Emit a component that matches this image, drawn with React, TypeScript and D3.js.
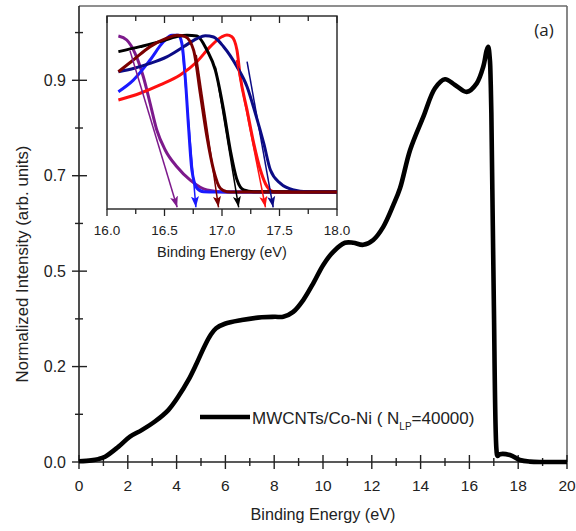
import React from "react";
import * as d3 from "d3";

// ---------- main spectrum ----------
const mainEnergy = [0, 0.5, 0.79, 1.07, 1.61, 2.09, 2.57, 3.11, 3.66, 4.07, 4.48, 4.82, 5.16, 5.4, 5.62, 5.98, 6.67, 7.49, 8.03, 8.37, 8.78, 9.19, 9.6, 10.01, 10.42, 10.9, 11.24, 11.65, 12.06, 12.47, 12.88, 13.16, 13.57, 14.11, 14.59, 15.0, 15.41, 15.89, 16.3, 16.57, 16.71, 16.77, 16.84, 16.87, 16.9, 17.0, 17.11, 17.15, 17.25, 17.66, 18.07, 18.48, 19.0, 20.0];
const mainIntensity = [0.002, 0.004, 0.007, 0.013, 0.037, 0.062, 0.078, 0.099, 0.127, 0.16, 0.2, 0.241, 0.285, 0.311, 0.327, 0.338, 0.347, 0.354, 0.355, 0.355, 0.367, 0.396, 0.437, 0.482, 0.514, 0.536, 0.536, 0.531, 0.543, 0.575, 0.628, 0.67, 0.763, 0.844, 0.914, 0.936, 0.922, 0.905, 0.926, 0.967, 1.007, 1.015, 0.983, 0.934, 0.853, 0.396, 0.029, 0.015, 0.019, 0.017, 0.005, 0.001, 0.0, 0.0];

const xMajorTicks = [0, 2, 4, 6, 8, 10, 12, 14, 16, 18, 20];
const xMinorTicks = [1, 3, 5, 7, 9, 11, 13, 15, 17, 19];
const yMajorTicks = [0, 7 / 30, 14 / 30, 21 / 30, 28 / 30];
const yTickLabels = ["0.0", "0.2", "0.5", "0.7", "0.9"];
const yMinorTicks = [3.5 / 30, 10.5 / 30, 17.5 / 30, 24.5 / 30, 31.5 / 30];

// ---------- inset ----------
const insetMajorTicks = [16.0, 16.5, 17.0, 17.5, 18.0];
const insetTickLabels = ["16.0", "16.5", "17.0", "17.5", "18.0"];
const insetMinorTicks = [16.25, 16.75, 17.25, 17.75];

const purpleE = [16.099, 16.172, 16.244, 16.316, 16.375, 16.433, 16.506, 16.608, 16.724, 16.869, 17.03, 18.0];
const purpleV = [0.994, 0.968, 0.883, 0.734, 0.565, 0.395, 0.268, 0.161, 0.076, 0.013, 0.0, 0.0];
const blueE = [16.099, 16.229, 16.375, 16.491, 16.564, 16.622, 16.651, 16.68, 16.709, 16.738, 16.782, 16.84, 16.94, 18.0];
const blueV = [0.639, 0.713, 0.841, 0.957, 0.998, 0.998, 0.947, 0.734, 0.416, 0.14, 0.025, 0.002, 0.0, 0.0];
const redE = [16.099, 16.288, 16.462, 16.636, 16.782, 16.898, 16.999, 17.043, 17.086, 17.13, 17.159, 17.218, 17.276, 17.334, 17.392, 17.45, 17.55, 18.0];
const redV = [0.586, 0.629, 0.682, 0.745, 0.83, 0.926, 0.989, 1.0, 0.989, 0.904, 0.734, 0.522, 0.31, 0.14, 0.034, 0.002, 0.0, 0.0];
const blackE = [16.099, 16.288, 16.462, 16.608, 16.695, 16.782, 16.869, 16.942, 17.014, 17.072, 17.131, 17.189, 17.276, 18.0];
const blackV = [0.894, 0.926, 0.958, 0.99, 0.999, 0.994, 0.904, 0.777, 0.522, 0.268, 0.076, 0.013, 0.002, 0.0];
const navyE = [16.099, 16.229, 16.375, 16.52, 16.665, 16.782, 16.854, 16.927, 17.014, 17.13, 17.218, 17.29, 17.363, 17.421, 17.508, 17.624, 17.74, 18.0];
const navyV = [0.766, 0.787, 0.819, 0.861, 0.925, 0.977, 0.996, 0.987, 0.925, 0.798, 0.671, 0.501, 0.31, 0.14, 0.055, 0.013, 0.002, 0.0];
const maroonE = [16.099, 16.229, 16.375, 16.52, 16.608, 16.68, 16.753, 16.811, 16.869, 16.927, 16.985, 17.043, 17.1, 18.0];
const maroonV = [0.766, 0.841, 0.926, 0.98, 0.999, 0.99, 0.904, 0.629, 0.352, 0.14, 0.024, 0.002, 0.0, 0.0];

const insetSeriesE = [purpleE, blueE, redE, blackE, navyE, maroonE];
const insetSeriesV = [purpleV, blueV, redV, blackV, navyV, maroonV];
const insetColors = ["#7d1a8c", "#1a1aff", "#ff1010", "#000000", "#0b0b85", "#7a0000"];

// tangent arrows (same order as colours)
const arrowStartE = [16.2, 16.651, 17.125, 16.942, 17.218, 16.776];
const arrowStartV = [0.9, 0.947, 0.84, 0.798, 0.83, 0.873];
const arrowEndE = [16.61, 16.773, 17.378, 17.145, 17.445, 16.97];
const arrowEndV = [-0.097, -0.097, -0.097, -0.097, -0.097, -0.097];

const W = 576;
const H = 531;
const FONT = "'Liberation Sans', Arial, Helvetica, sans-serif";

export default function App() {
  // main scales
  const x = d3.scaleLinear().domain([0, 20]).range([79, 567]);
  const y = d3.scaleLinear().domain([0, 1.115]).range([462, 6]);
  const mainLine = d3
    .line<number>()
    .x((_, i) => x(mainEnergy[i]))
    .y((d) => y(d))
    .curve(d3.curveCatmullRom.alpha(0.5));

  // inset scales
  const ix = d3.scaleLinear().domain([16, 18]).range([107, 337]);
  const iy = d3.scaleLinear().domain([-0.108, 1.121]).range([209, 16]);

  const insetPaths = insetSeriesE.map((es, k) =>
    d3
      .line<number>()
      .x((_, i) => ix(es[i]))
      .y((d) => iy(d))
      .curve(d3.curveMonotoneX)(insetSeriesV[k]) as string
  );

  const [x0, x1] = x.range();
  const [y0, y1] = y.range();
  const txt = { fontFamily: FONT };

  return (
    <svg
      width={W}
      height={H}
      style={{ position: "absolute", left: 0, top: 0, background: "#fff", fontFamily: FONT }}
    >
      <defs>
        {insetColors.map((c, i) => (
          <marker
            key={i}
            id={`ah${i}`}
            markerUnits="userSpaceOnUse"
            markerWidth={12}
            markerHeight={10}
            viewBox="0 -5 12 10"
            refX={11}
            refY={0}
            orient="auto"
          >
            <path d="M0,-4 L11,0 L0,4 L2.5,0 Z" fill={c} />
          </marker>
        ))}
      </defs>
      <rect x={0} y={0} width={W} height={H} fill="#fff" />

      {/* frame */}
      <line x1={x0} x2={x1} y1={y1} y2={y1} stroke="#6a6a6a" strokeWidth={1.6} />
      <line x1={x1} x2={x1} y1={y1} y2={y0} stroke="#6a6a6a" strokeWidth={1.6} />
      <line x1={x0} x2={x0} y1={y1} y2={y0 + 0.5} stroke="#222" strokeWidth={1.6} />
      <line x1={x0} x2={x1} y1={y0} y2={y0} stroke="#222" strokeWidth={1.6} />

      {/* x ticks */}
      {xMajorTicks.map((t) => (
        <g key={`xm${t}`}>
          <line x1={x(t)} x2={x(t)} y1={y0 - 7} y2={y0 + 7} stroke="#222" strokeWidth={1.4} />
          <text x={x(t)} y={491} fontSize={15.5} textAnchor="middle" fill="#222" style={txt}>
            {t}
          </text>
        </g>
      ))}
      {xMinorTicks.map((t) => (
        <line key={`xn${t}`} x1={x(t)} x2={x(t)} y1={y0 - 4} y2={y0 + 4} stroke="#222" strokeWidth={1.4} />
      ))}

      {/* y ticks */}
      {yMajorTicks.map((t, i) => (
        <g key={`ym${i}`}>
          <line x1={x0 - 7} x2={x0 + 8} y1={y(t)} y2={y(t)} stroke="#222" strokeWidth={1.4} />
          <text x={66} y={y(t) + 5.5} fontSize={16} textAnchor="end" fill="#222" style={txt}>
            {yTickLabels[i]}
          </text>
        </g>
      ))}
      {yMinorTicks.map((t, i) => (
        <line key={`yn${i}`} x1={x0 - 4} x2={x0 + 4} y1={y(t)} y2={y(t)} stroke="#222" strokeWidth={1.4} />
      ))}

      {/* axis titles */}
      <text x={323} y={520} fontSize={16.2} textAnchor="middle" fill="#222" style={txt}>
        Binding Energy (eV)
      </text>
      <text
        transform={`translate(28,264) rotate(-90)`}
        fontSize={16.8}
        textAnchor="middle"
        fill="#222"
        style={txt}
      >
        Normalized Intensity (arb. units)
      </text>

      {/* main curve */}
      <path d={mainLine(mainIntensity) as string} fill="none" stroke="#000" strokeWidth={4.6} strokeLinejoin="round" />

      {/* label (a) */}
      <text x={544} y={36} fontSize={17} textAnchor="middle" fill="#222" style={{ fontFamily: "'Open Sans', sans-serif" }}>
        (a)
      </text>

      {/* legend */}
      <line x1={200} x2={250} y1={417} y2={417} stroke="#000" strokeWidth={4.6} />
      <text x={252} y={424} fontSize={17} fill="#222" style={txt}>
        MWCNTs/Co-Ni ( N
        <tspan fontSize={10} dy={6}>LP</tspan>
        <tspan dy={-6}>=40000)</tspan>
      </text>

      {/* ---------- inset ---------- */}
      <rect x={107} y={16} width={230} height={193} fill="#fff" stroke="#222" strokeWidth={1.4} />
      {insetMajorTicks.map((t, i) => (
        <g key={`im${i}`}>
          <line x1={ix(t)} x2={ix(t)} y1={209} y2={216} stroke="#222" strokeWidth={1.3} />
          <line x1={ix(t)} x2={ix(t)} y1={16} y2={23} stroke="#222" strokeWidth={1.3} />
          <text x={ix(t)} y={235} fontSize={13.5} textAnchor="middle" fill="#222" style={txt}>
            {insetTickLabels[i]}
          </text>
        </g>
      ))}
      {insetMinorTicks.map((t, i) => (
        <g key={`in${i}`}>
          <line x1={ix(t)} x2={ix(t)} y1={209} y2={214} stroke="#222" strokeWidth={1.3} />
          <line x1={ix(t)} x2={ix(t)} y1={16} y2={21} stroke="#222" strokeWidth={1.3} />
        </g>
      ))}
      <text x={222} y={257} fontSize={14.5} textAnchor="middle" fill="#222" style={txt}>
        Binding Energy (eV)
      </text>

      {insetPaths.map((p, k) => (
        <path key={`ip${k}`} d={p} fill="none" stroke={insetColors[k]} strokeWidth={3} strokeLinejoin="round" />
      ))}
      {arrowStartE.map((e, k) => (
        <line
          key={`ar${k}`}
          x1={ix(e)}
          y1={iy(arrowStartV[k])}
          x2={ix(arrowEndE[k])}
          y2={iy(arrowEndV[k])}
          stroke={insetColors[k]}
          strokeWidth={1.5}
          markerEnd={`url(#ah${k})`}
        />
      ))}
    </svg>
  );
}
